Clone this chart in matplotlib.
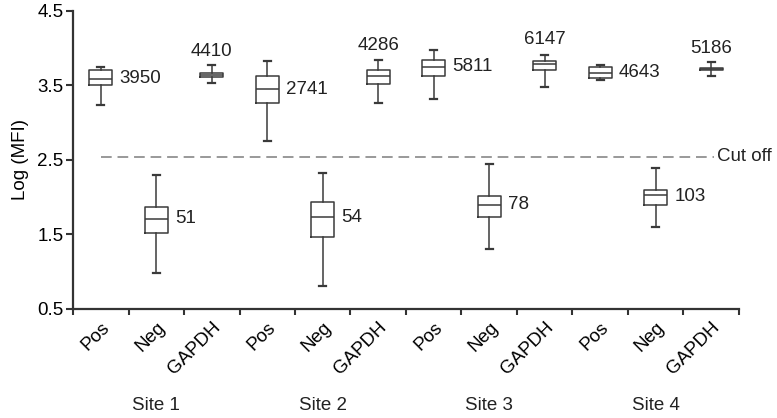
import matplotlib
matplotlib.use("Agg")
import matplotlib.pyplot as plt
import matplotlib.transforms as mtransforms

plt.rcParams['font.family'] = ['Liberation Sans', 'DejaVu Sans']

# categories
sites = ['Site 1', 'Site 2', 'Site 3', 'Site 4']
groups = ['Pos', 'Neg', 'GAPDH']

# box stats per box (order: site1 Pos, Neg, GAPDH, site2 ...)
whislo = [3.23, 0.98, 3.53, 2.76, 0.81, 3.27, 3.32, 1.30, 3.48, 3.57, 1.60, 3.63]
q1     = [3.50, 1.52, 3.61, 3.27, 1.47, 3.52, 3.63, 1.73, 3.70, 3.60, 1.90, 3.70]
med    = [3.59, 1.71, 3.64, 3.45, 1.73, 3.63, 3.74, 1.89, 3.79, 3.67, 2.03, 3.72]
q3     = [3.70, 1.87, 3.66, 3.63, 1.93, 3.70, 3.84, 2.02, 3.83, 3.75, 2.09, 3.73]
whishi = [3.74, 2.30, 3.77, 3.83, 2.32, 3.84, 3.97, 2.45, 3.91, 3.77, 2.39, 3.81]

# MFI numbers written beside / above each box
mfi_labels = ['3950', '51', '4410', '2741', '54', '4286',
              '5811', '78', '6147', '4643', '103', '5186']
mfi_y = [3.59, 1.71, 3.95, 3.45, 1.73, 4.04, 3.75, 1.90, 4.11, 3.67, 2.01, 3.99]

cutoff = 2.545
fs = 13.5

fig = plt.figure(figsize=(7.77, 4.18), dpi=100)
ax = fig.add_axes([0.094, 0.261, 0.857, 0.713])

stats = []
for i in range(len(med)):
    stats.append({'whislo': whislo[i], 'q1': q1[i], 'med': med[i],
                  'q3': q3[i], 'whishi': whishi[i], 'fliers': []})

line_col = '#3a3a3a'
pos = list(range(len(med)))
ax.bxp(stats, positions=pos, widths=0.42, showfliers=False,
       boxprops=dict(color=line_col, linewidth=1.1),
       medianprops=dict(color=line_col, linewidth=1.1),
       whiskerprops=dict(color=line_col, linewidth=1.1),
       capprops=dict(color=line_col, linewidth=1.6), capwidths=0.12)

# value labels
for i, (lab, y) in enumerate(zip(mfi_labels, mfi_y)):
    if i % 3 == 2:
        ax.text(i, y, lab, ha='center', va='center', fontsize=fs, color='#222222')
    else:
        ax.text(i + 0.34, y, lab, ha='left', va='center', fontsize=fs, color='#222222')

# cut off line
ax.plot([0, 11.05], [cutoff, cutoff], linestyle=(0, (5.5, 3)), color='#999999', linewidth=1.4)
ax.text(11.1, cutoff, 'Cut off', ha='left', va='center', fontsize=fs, color='#222222',
        clip_on=False)

ax.set_xlim(-0.5, 11.5)
ax.set_ylim(0.5, 4.5)
ax.set_yticks([0.5, 1.5, 2.5, 3.5, 4.5])
ax.set_yticklabels(['0.5', '1.5', '2.5', '3.5', '4.5'], fontsize=fs)
ax.set_ylabel('Log (MFI)', fontsize=fs, labelpad=6)

# major ticks at category borders, labels on minor ticks
ax.set_xticks([x - 0.5 for x in range(13)])
ax.set_xticklabels([])
ax.set_xticks(pos, minor=True)
ax.set_xticklabels(groups * len(sites), minor=True, rotation=45, ha='right',
                   rotation_mode='anchor', fontsize=fs)
ax.tick_params(axis='x', which='minor', length=0, pad=7)
ax.tick_params(axis='x', which='major', direction='out', length=4, width=1.5,
               color='#333333')
ax.tick_params(axis='y', which='major', direction='out', length=5, width=1.5,
               color='#333333', pad=2)

for s in ['top', 'right']:
    ax.spines[s].set_visible(False)
for s in ['left', 'bottom']:
    ax.spines[s].set_linewidth(1.6)
    ax.spines[s].set_color('#333333')

trans = mtransforms.blended_transform_factory(ax.transData, ax.transAxes)
for k, site in enumerate(sites):
    ax.text(3 * k + 1, -0.325, site, transform=trans, ha='center', va='center',
            fontsize=fs, color='#222222')

fig.savefig('out.png', dpi=100)
